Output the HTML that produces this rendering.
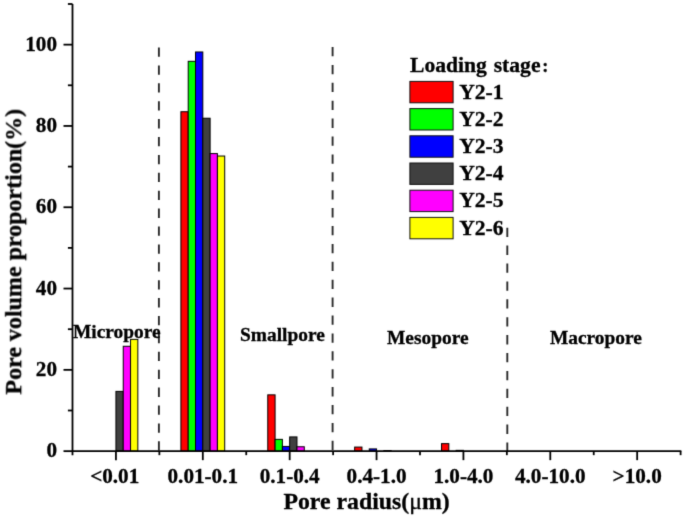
<!DOCTYPE html>
<html><head><meta charset="utf-8"><style>
html,body{margin:0;padding:0;background:#fff;}
svg{display:block;}

text{font-family:"Liberation Serif",serif;font-weight:bold;fill:#000;stroke:#000;stroke-width:0.3px;}
.t{font-size:21.2px;}
.l{font-size:21.6px;}
.p{font-size:19.4px;}
.ti{font-size:23.8px;}
.mu{font-weight:normal;}
</style></head><body>
<div id="w"><svg width="685" height="519" viewBox="0 0 685 519">
<defs><filter id="bl" color-interpolation-filters="sRGB" x="0" y="0" width="685" height="519" filterUnits="userSpaceOnUse"><feConvolveMatrix order="3" kernelMatrix="0.0144 0.0912 0.0144 0.0912 0.5776 0.0912 0.0144 0.0912 0.0144" edgeMode="duplicate"/></filter></defs><g filter="url(#bl)"><rect width="685" height="519" fill="#fff"/>
<line x1="158.9" y1="47.5" x2="158.9" y2="451.15" stroke="#2a2a2a" stroke-width="1.9" stroke-dasharray="9.3 8.6"/>
<line x1="332.6" y1="47.0" x2="332.6" y2="451.15" stroke="#2a2a2a" stroke-width="1.9" stroke-dasharray="9.3 8.6"/>
<line x1="507.3" y1="227.7" x2="507.3" y2="451.15" stroke="#2a2a2a" stroke-width="1.9" stroke-dasharray="9.3 8.6"/>
<rect x="115.94" y="391.39" width="7.3" height="59.76" fill="#404040" stroke="#000" stroke-width="1"/>
<rect x="123.24" y="346.27" width="7.3" height="104.88" fill="#ff00ff" stroke="#000" stroke-width="1"/>
<rect x="130.54" y="339.36" width="7.3" height="111.79" fill="#ffff00" stroke="#000" stroke-width="1"/>
<rect x="180.91" y="111.72" width="7.3" height="339.43" fill="#ff0000" stroke="#000" stroke-width="1"/>
<rect x="188.21" y="61.32" width="7.3" height="389.83" fill="#00ff00" stroke="#000" stroke-width="1"/>
<rect x="195.51" y="51.97" width="7.3" height="399.18" fill="#0000ff" stroke="#000" stroke-width="1"/>
<rect x="202.81" y="118.23" width="7.3" height="332.92" fill="#404040" stroke="#000" stroke-width="1"/>
<rect x="210.11" y="153.59" width="7.3" height="297.56" fill="#ff00ff" stroke="#000" stroke-width="1"/>
<rect x="217.41" y="156.03" width="7.3" height="295.12" fill="#ffff00" stroke="#000" stroke-width="1"/>
<rect x="267.78" y="394.85" width="7.3" height="56.30" fill="#ff0000" stroke="#000" stroke-width="1"/>
<rect x="275.08" y="439.36" width="7.3" height="11.79" fill="#00ff00" stroke="#000" stroke-width="1"/>
<rect x="282.38" y="446.43" width="7.3" height="4.72" fill="#0000ff" stroke="#000" stroke-width="1"/>
<rect x="289.68" y="436.92" width="7.3" height="14.23" fill="#404040" stroke="#000" stroke-width="1"/>
<rect x="296.98" y="446.76" width="7.3" height="4.39" fill="#ff00ff" stroke="#000" stroke-width="1"/>
<rect x="354.65" y="447.08" width="7.3" height="4.06" fill="#ff0000" stroke="#000" stroke-width="1"/>
<rect x="369.25" y="448.91" width="7.3" height="2.24" fill="#0000ff" stroke="#000" stroke-width="1"/>
<rect x="383.85" y="450.54" width="7.3" height="0.61" fill="#ff00ff" stroke="#000" stroke-width="1"/>
<rect x="441.52" y="443.63" width="7.3" height="7.52" fill="#ff0000" stroke="#000" stroke-width="1"/>
<rect x="456.12" y="450.34" width="7.3" height="0.81" fill="#0000ff" stroke="#000" stroke-width="1"/>
<line x1="72.5" y1="4.0" x2="72.5" y2="455.15" stroke="#000" stroke-width="1.8"/>
<line x1="72.5" y1="451.15" x2="681.35" y2="451.15" stroke="#000" stroke-width="1.8"/>
<line x1="63.5" y1="451.15" x2="72.5" y2="451.15" stroke="#000" stroke-width="1.8"/>
<line x1="67.9" y1="410.50" x2="72.5" y2="410.50" stroke="#000" stroke-width="1.8"/>
<line x1="63.5" y1="369.85" x2="72.5" y2="369.85" stroke="#000" stroke-width="1.8"/>
<line x1="67.9" y1="329.20" x2="72.5" y2="329.20" stroke="#000" stroke-width="1.8"/>
<line x1="63.5" y1="288.55" x2="72.5" y2="288.55" stroke="#000" stroke-width="1.8"/>
<line x1="67.9" y1="247.90" x2="72.5" y2="247.90" stroke="#000" stroke-width="1.8"/>
<line x1="63.5" y1="207.25" x2="72.5" y2="207.25" stroke="#000" stroke-width="1.8"/>
<line x1="67.9" y1="166.60" x2="72.5" y2="166.60" stroke="#000" stroke-width="1.8"/>
<line x1="63.5" y1="125.95" x2="72.5" y2="125.95" stroke="#000" stroke-width="1.8"/>
<line x1="67.9" y1="85.30" x2="72.5" y2="85.30" stroke="#000" stroke-width="1.8"/>
<line x1="63.5" y1="44.65" x2="72.5" y2="44.65" stroke="#000" stroke-width="1.8"/>
<line x1="67.9" y1="4.00" x2="72.5" y2="4.00" stroke="#000" stroke-width="1.8"/>
<line x1="115.94" y1="451.15" x2="115.94" y2="460.15" stroke="#000" stroke-width="1.8"/>
<line x1="202.81" y1="451.15" x2="202.81" y2="460.15" stroke="#000" stroke-width="1.8"/>
<line x1="289.68" y1="451.15" x2="289.68" y2="460.15" stroke="#000" stroke-width="1.8"/>
<line x1="376.55" y1="451.15" x2="376.55" y2="460.15" stroke="#000" stroke-width="1.8"/>
<line x1="463.42" y1="451.15" x2="463.42" y2="460.15" stroke="#000" stroke-width="1.8"/>
<line x1="550.29" y1="451.15" x2="550.29" y2="460.15" stroke="#000" stroke-width="1.8"/>
<line x1="637.16" y1="451.15" x2="637.16" y2="460.15" stroke="#000" stroke-width="1.8"/>
<line x1="159.37" y1="451.15" x2="159.37" y2="455.15" stroke="#000" stroke-width="1.8"/>
<line x1="246.24" y1="451.15" x2="246.24" y2="455.15" stroke="#000" stroke-width="1.8"/>
<line x1="333.11" y1="451.15" x2="333.11" y2="455.15" stroke="#000" stroke-width="1.8"/>
<line x1="419.99" y1="451.15" x2="419.99" y2="455.15" stroke="#000" stroke-width="1.8"/>
<line x1="506.86" y1="451.15" x2="506.86" y2="455.15" stroke="#000" stroke-width="1.8"/>
<line x1="593.73" y1="451.15" x2="593.73" y2="455.15" stroke="#000" stroke-width="1.8"/>
<line x1="680.60" y1="451.15" x2="680.60" y2="455.15" stroke="#000" stroke-width="1.8"/>
<text x="57" y="457.35" text-anchor="end" class="t">0</text>
<text x="57" y="376.05" text-anchor="end" class="t">20</text>
<text x="57" y="294.75" text-anchor="end" class="t">40</text>
<text x="57" y="213.45" text-anchor="end" class="t">60</text>
<text x="57" y="132.15" text-anchor="end" class="t">80</text>
<text x="57" y="50.85" text-anchor="end" class="t">100</text>
<text x="114.74" y="483" text-anchor="middle" class="t">&lt;0.01</text>
<text x="202.81" y="483" text-anchor="middle" class="t">0.01-0.1</text>
<text x="289.68" y="483" text-anchor="middle" class="t">0.1-0.4</text>
<text x="376.55" y="483" text-anchor="middle" class="t">0.4-1.0</text>
<text x="463.42" y="483" text-anchor="middle" class="t">1.0-4.0</text>
<text x="550.29" y="483" text-anchor="middle" class="t">4.0-10.0</text>
<text x="637.16" y="483" text-anchor="middle" class="t">&gt;10.0</text>
<text x="283.4" y="508.5" class="ti">Pore radius(<tspan class="mu">μ</tspan>m)</text>
<text transform="translate(21.2,394.6) rotate(-90)" x="0" y="0" class="ti" style="font-size:24px">Pore volume proportion(%)</text>
<text x="73" y="338.1" class="p">Micropore</text>
<text x="240" y="340.7" class="p">Smallpore</text>
<text x="387" y="344.1" class="p">Mesopore</text>
<text x="549.9" y="344" class="p">Macropore</text>
<text x="410" y="71.6" class="l">Loading <tspan dx="1.5">stage</tspan><tspan dx="1.8" style="font-size:18px">:</tspan></text>
<rect x="409.9" y="81.40" width="43.2" height="21.4" fill="#ff0000" stroke="#111" stroke-width="1"/>
<text x="459.2" y="98.60" class="l">Y2-1</text>
<rect x="409.9" y="108.60" width="43.2" height="21.4" fill="#00ff00" stroke="#111" stroke-width="1"/>
<text x="459.2" y="125.80" class="l">Y2-2</text>
<rect x="409.9" y="135.80" width="43.2" height="21.4" fill="#0000ff" stroke="#111" stroke-width="1"/>
<text x="459.2" y="153.00" class="l">Y2-3</text>
<rect x="409.9" y="163.00" width="43.2" height="21.4" fill="#404040" stroke="#111" stroke-width="1"/>
<text x="459.2" y="180.20" class="l">Y2-4</text>
<rect x="409.9" y="190.20" width="43.2" height="21.4" fill="#ff00ff" stroke="#111" stroke-width="1"/>
<text x="459.2" y="207.40" class="l">Y2-5</text>
<rect x="409.9" y="217.40" width="43.2" height="21.4" fill="#ffff00" stroke="#111" stroke-width="1"/>
<text x="459.2" y="234.60" class="l">Y2-6</text>
</g></svg></div>
</body></html>
